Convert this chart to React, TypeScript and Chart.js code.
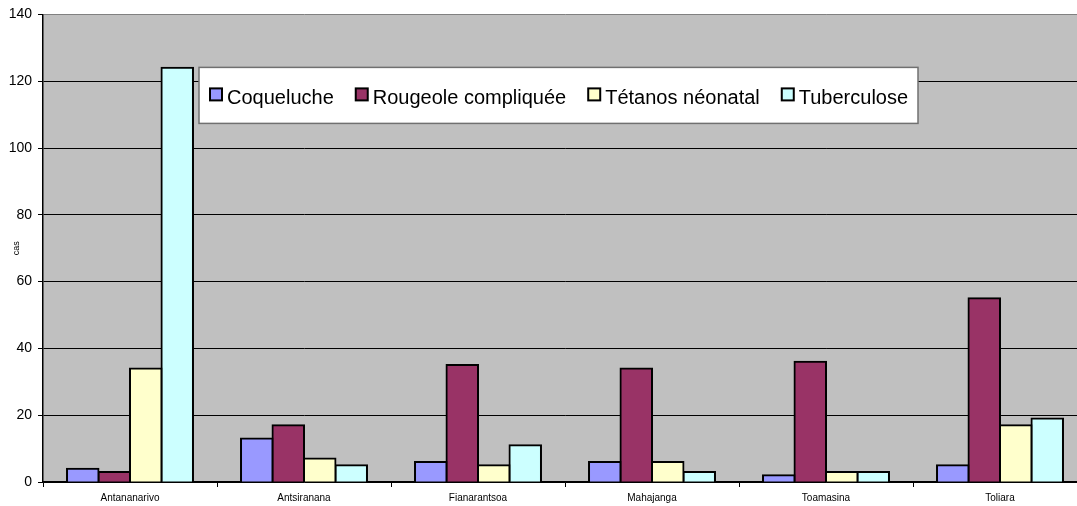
import React, { useEffect, useRef } from "react";
import { Chart, registerables } from "chart.js";

Chart.register(...registerables);

const regions = ["Antananarivo", "Antsiranana", "Fianarantsoa", "Mahajanga", "Toamasina", "Toliara"];
const seriesNames = ["Coqueluche", "Rougeole compliquée", "Tétanos néonatal", "Tuberculose"];
const coqueluche = [4, 13, 6, 6, 2, 5];
const rougeole = [3, 17, 35, 34, 36, 55];
const tetanos = [34, 7, 5, 6, 3, 17];
const tuberculose = [124, 5, 11, 3, 3, 19];
const seriesColors = ["#9999FF", "#993366", "#FFFFCC", "#CCFFFF"];
const yTicks = [0, 20, 40, 60, 80, 100, 120, 140];
const yTitle = "cas";

const FONT = "'Liberation Sans', Arial, sans-serif";

const plotBg = {
  id: "plotBg",
  beforeDraw(chart: any) {
    const { ctx, chartArea } = chart;
    ctx.save();
    ctx.fillStyle = "#C0C0C0";
    ctx.fillRect(chartArea.left, chartArea.top, chartArea.right - chartArea.left, chartArea.bottom - chartArea.top);
    ctx.restore();
  },
};

const floatLegend = {
  id: "floatLegend",
  afterDraw(chart: any) {
    const { ctx, chartArea } = chart;
    const bx = chartArea.left + 156;
    const by = chartArea.top + 53;
    const bw = 719;
    const bh = 56;
    ctx.save();
    ctx.fillStyle = "#FFFFFF";
    ctx.fillRect(bx, by, bw, bh);
    ctx.strokeStyle = "#707070";
    ctx.lineWidth = 1.5;
    ctx.strokeRect(bx, by, bw, bh);
    ctx.font = `20px ${FONT}`;
    ctx.textBaseline = "alphabetic";
    ctx.textAlign = "left";
    let x = bx + 11;
    chart.data.datasets.forEach((ds: any) => {
      ctx.fillStyle = ds.backgroundColor;
      ctx.fillRect(x, by + 21, 12, 12);
      ctx.strokeStyle = "#000";
      ctx.lineWidth = 2;
      ctx.strokeRect(x, by + 21, 12, 12);
      ctx.fillStyle = "#000";
      ctx.fillText(ds.label, x + 17, by + 37);
      x += 17 + ctx.measureText(ds.label).width + 22;
    });
    ctx.restore();
  },
};

export default function App() {
  const ref = useRef<HTMLCanvasElement | null>(null);
  useEffect(() => {
    if (!ref.current) return;
    const values = [coqueluche, rougeole, tetanos, tuberculose];
    const chart = new Chart(ref.current, {
      type: "bar",
      data: {
        labels: regions,
        datasets: seriesNames.map((name, i) => ({
          label: name,
          data: values[i],
          backgroundColor: seriesColors[i],
          borderColor: "#000",
          borderWidth: 2,
          inflateAmount: 1,
          categoryPercentage: 0.724,
          barPercentage: 1.0,
        })),
      },
      options: {
        responsive: false,
        animation: false,
        layout: { padding: { top: 12, right: 13, left: 0, bottom: 0 } },
        plugins: {
          legend: { display: false },
          tooltip: { enabled: false },
        },
        scales: {
          x: {
            offset: true,
            grid: {
              offset: true,
              drawOnChartArea: false,
              tickLength: 5,
              tickColor: "#000",
              color: "#000",
            },
            border: { color: "#000", width: 1.5 },
            ticks: { color: "#000", font: { family: FONT, size: 10 }, padding: 5, maxRotation: 0, autoSkip: false },
            afterFit(scale: any) {
              scale.height = 24;
            },
          },
          y: {
            min: yTicks[0],
            max: yTicks[yTicks.length - 1],
            ticks: { stepSize: yTicks[1] - yTicks[0], color: "#000", font: { family: FONT, size: 14 }, padding: 6 },
            grid: {
              color: (c: any) => (c.tick && c.tick.value === yTicks[yTicks.length - 1] ? "#808080" : "#000"),
              lineWidth: 1,
              tickLength: 5,
              tickColor: "#000",
            },
            border: { color: "#000", width: 1.5 },
            title: {
              display: true,
              text: yTitle,
              color: "#000",
              font: { family: FONT, size: 9 },
              padding: { top: 11, bottom: 0 },
            },
            afterFit(scale: any) {
              scale.width = 43;
            },
          },
        },
      },
      plugins: [plotBg, floatLegend],
    });
    return () => chart.destroy();
  }, []);
  return (
    <div style={{ position: "absolute", left: 0, top: 0, width: 1077, height: 506, overflow: "hidden", background: "#fff" }}>
      <canvas ref={ref} width={1100} height={506} style={{ display: "block" }} />
    </div>
  );
}
